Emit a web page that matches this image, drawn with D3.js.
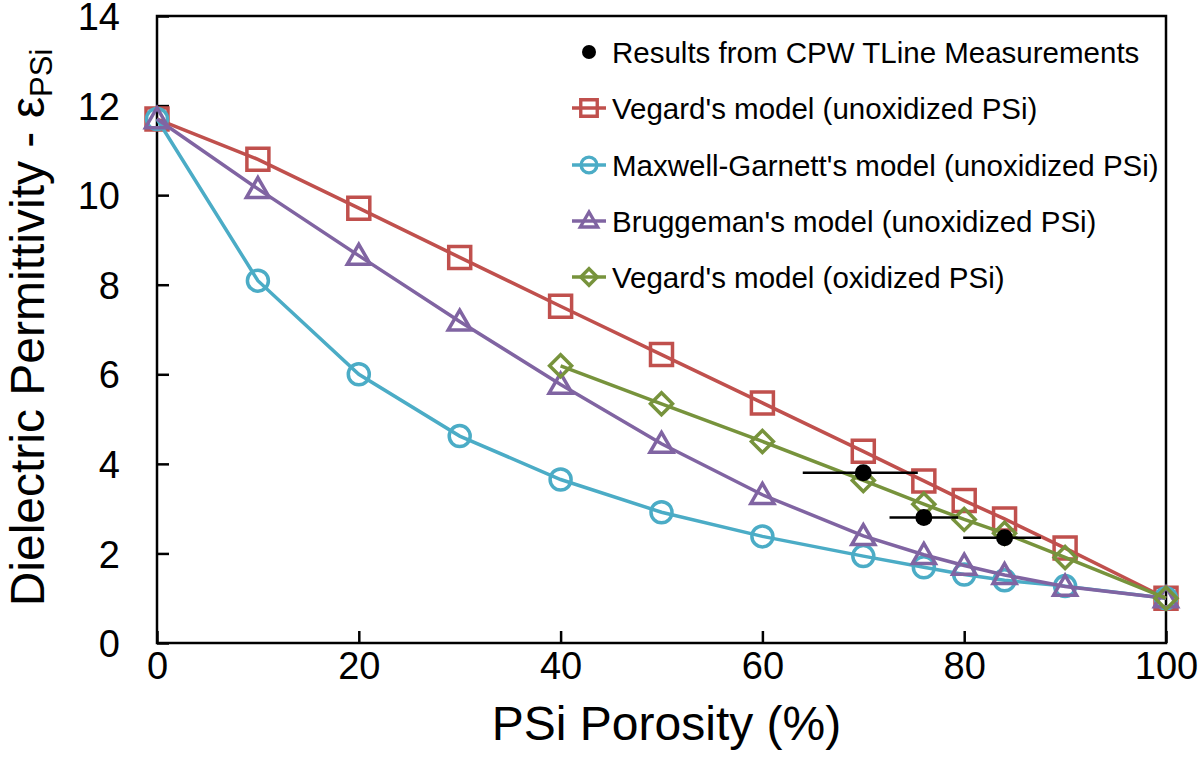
<!DOCTYPE html>
<html>
<head>
<meta charset="utf-8">
<script src="https://cdn.jsdelivr.net/npm/d3@7/dist/d3.min.js"></script>
<style>
  html, body { margin: 0; padding: 0; background: #fff; }
  svg text { font-family: "Liberation Sans", Arial, sans-serif; fill: #000; }
</style>
</head>
<body>
<svg id="chart" width="1200" height="775"></svg>
<script>
// ---- data ----
const porosity = [0, 10, 20, 30, 40, 50, 60, 70, 76, 80, 84, 90, 100];
const vegardUnox = [11.7, 10.8, 9.71, 8.61, 7.52, 6.44, 5.36, 4.28, 3.62, 3.18, 2.77, 2.12, 1.0];
const maxwellGarnett = [11.7, 8.09, 6.0, 4.62, 3.65, 2.92, 2.38, 1.94, 1.69, 1.53, 1.40, 1.27, 1.0];
const bruggeman = [11.7, 10.14, 8.65, 7.18, 5.77, 4.45, 3.31, 2.39, 1.97, 1.73, 1.52, 1.26, 1.0];
const porosityOx = [40, 50, 60, 70, 76, 80, 84, 90, 100];
const vegardOx = [6.19, 5.34, 4.5, 3.63, 3.1, 2.76, 2.45, 1.91, 1.0];
const measPorosity = [70, 76, 84];
const measEps = [3.8, 2.8, 2.35];
const measErrLow = [64.0, 72.6, 79.9];
const measErrHigh = [75.4, 79.4, 87.6];
const xTicks = [0, 20, 40, 60, 80, 100];
const yTicks = [0, 2, 4, 6, 8, 10, 12, 14];
const legendLabels = [
  "Results from CPW TLine Measurements",
  "Vegard's model (unoxidized PSi)",
  "Maxwell-Garnett's model (unoxidized PSi)",
  "Bruggeman's model (unoxidized PSi)",
  "Vegard's model (oxidized PSi)"
];

const series = [
  { name: legendLabels[1], xs: porosity, ys: vegardUnox, color: "#C0504D", marker: "square" },
  { name: legendLabels[2], xs: porosity, ys: maxwellGarnett, color: "#4BACC6", marker: "circle" },
  { name: legendLabels[3], xs: porosity, ys: bruggeman, color: "#8064A2", marker: "triangle" },
  { name: legendLabels[4], xs: porosityOx, ys: vegardOx, color: "#77933C", marker: "diamond" }
];

const svg = d3.select("#chart");
const x = d3.scaleLinear().domain([0, 100]).range([157, 1166]);
const y = d3.scaleLinear().domain([0, 14]).range([643, 16]);

// ---- frame ----
svg.append("rect")
  .attr("x", x(0)).attr("y", y(14))
  .attr("width", x(100) - x(0)).attr("height", y(0) - y(14))
  .attr("fill", "none").attr("stroke", "#000").attr("stroke-width", 2.5);

// y axis (ticks inward)
const yAxis = d3.axisLeft(y).tickValues(yTicks).tickSize(-12).tickPadding(37).tickFormat(d3.format("d"));
const gy = svg.append("g").attr("transform", `translate(${x(0)},0)`).call(yAxis);
gy.select(".domain").remove();
gy.selectAll(".tick line").attr("stroke", "#000").attr("stroke-width", 2.5);
gy.selectAll(".tick text").attr("font-size", 38).attr("font-family", "Liberation Sans, Arial, sans-serif").attr("fill", "#000").attr("dy", "0.36em");

// x axis (ticks inward)
const xAxis = d3.axisBottom(x).tickValues(xTicks).tickSize(-12).tickPadding(9).tickFormat(d3.format("d"));
const gx = svg.append("g").attr("transform", `translate(0,${y(0)})`).call(xAxis);
gx.select(".domain").remove();
gx.selectAll(".tick line").attr("stroke", "#000").attr("stroke-width", 2.5);
gx.selectAll(".tick text").attr("font-size", 38).attr("font-family", "Liberation Sans, Arial, sans-serif").attr("fill", "#000");

// axis titles
svg.append("text")
  .attr("x", (x(0) + x(100)) / 2 + 5).attr("y", 740)
  .attr("text-anchor", "middle").attr("font-size", 48)
  .text("PSi Porosity (%)");

const yt = svg.append("text")
  .attr("transform", `translate(44,${(y(0) + y(14)) / 2 - 2}) rotate(-90)`)
  .attr("text-anchor", "middle").attr("font-size", 48);
yt.append("tspan").text("Dielectric Permittivity - ε");
yt.append("tspan").attr("font-size", 31).attr("dy", 8).text("PSi");

// ---- markers ----
function markerPath(type) {
  switch (type) {
    case "square": return d3.symbol().type(d3.symbolSquare).size(22 * 22)();
    case "circle": return d3.symbol().type(d3.symbolCircle).size(Math.PI * 10.5 * 10.5)();
    case "triangle": return d3.symbol().type(d3.symbolTriangle).size(230)();
    case "diamond": return "M0,-11L11,0L0,11L-11,0Z";
  }
}

const line = d3.line().x(d => x(d[0])).y(d => y(d[1]));

series.forEach(s => {
  const pts = s.xs.map((v, i) => [v, s.ys[i]]);
  const g = svg.append("g");
  g.append("path").attr("d", line(pts)).attr("fill", "none")
    .attr("stroke", s.color).attr("stroke-width", 3.5);
  g.selectAll("path.m").data(pts).join("path").attr("class", "m")
    .attr("transform", d => `translate(${x(d[0])},${y(d[1]) + (s.marker === "triangle" ? 2 : 0)})`)
    .attr("d", markerPath(s.marker))
    .attr("fill", "none").attr("stroke", s.color).attr("stroke-width", 3.5);
});

// measurement points with horizontal error bars
const meas = measPorosity.map((v, i) => ({ x: v, y: measEps[i], lo: measErrLow[i], hi: measErrHigh[i] }));
svg.append("g").selectAll("line").data(meas).join("line")
  .attr("x1", d => x(d.lo)).attr("x2", d => x(d.hi))
  .attr("y1", d => y(d.y)).attr("y2", d => y(d.y))
  .attr("stroke", "#000").attr("stroke-width", 2.5);
svg.append("g").selectAll("circle").data(meas).join("circle")
  .attr("cx", d => x(d.x)).attr("cy", d => y(d.y)).attr("r", 8.5).attr("fill", "#000");

// ---- legend ----
const legendY = [52, 108, 165, 221, 277];
const lx = 589;
const lg = svg.append("g");
lg.append("circle").attr("cx", lx).attr("cy", legendY[0]).attr("r", 7).attr("fill", "#000");
series.forEach((s, i) => {
  const yy = legendY[i + 1];
  lg.append("line").attr("x1", lx - 17).attr("x2", lx + 17).attr("y1", yy).attr("y2", yy)
    .attr("stroke", s.color).attr("stroke-width", 3.5);
  lg.append("path").attr("transform", `translate(${lx},${yy + (s.marker === "triangle" ? 1 : 0)}) scale(0.75)`)
    .attr("d", markerPath(s.marker)).attr("fill", "none").attr("stroke", s.color).attr("stroke-width", 4.5);
});
legendLabels.forEach((t, i) => {
  lg.append("text").attr("x", 612).attr("y", legendY[i]).attr("dy", "0.36em")
    .attr("font-size", 29.5).text(t);
});
</script>
</body>
</html>
